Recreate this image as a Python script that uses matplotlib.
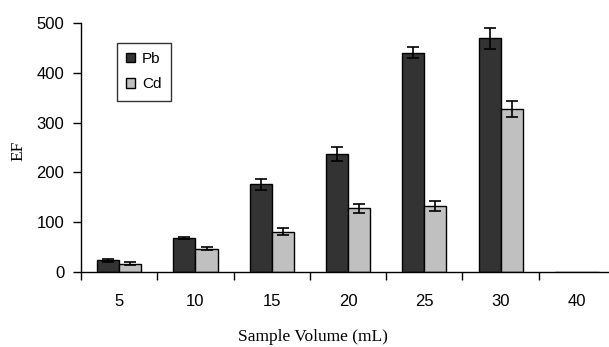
import matplotlib
matplotlib.use("Agg")
import matplotlib.pyplot as plt
import numpy as np

categories = ["5", "10", "15", "20", "25", "30", "40"]
pb_values = [24, 68, 176, 236, 440, 469, 0]
cd_values = [17, 47, 81, 128, 132, 328, 0]
pb_err = [3, 2, 11, 14, 11, 21, 0]
cd_err = [3, 3, 7, 9, 10, 16, 0]

fig = plt.figure(figsize=(6.09, 3.47), dpi=100)
ax = fig.add_axes([0.133, 0.216, 0.877, 0.718])

x = np.arange(len(categories))
w = 0.29
eb = dict(ecolor="black", elinewidth=1.2, capsize=4, capthick=1.2)
ax.bar(x - w/2, pb_values, w, color="#333333", edgecolor="black", linewidth=1,
       yerr=[e if e else np.nan for e in pb_err], error_kw=eb, label="Pb")
ax.bar(x + w/2, cd_values, w, color="#c0c0c0", edgecolor="black", linewidth=1,
       yerr=[e if e else np.nan for e in cd_err], error_kw=eb, label="Cd")

ax.set_xlim(-0.5, 6.5)
ax.set_ylim(0, 500)
ax.set_yticks([0, 100, 200, 300, 400, 500])
ax.set_xticks(x)
ax.set_xticklabels(categories)
ax.set_xticks(np.arange(-0.5, 6.6, 1), minor=True)
ax.tick_params(axis="x", which="major", length=0, pad=16)
ax.tick_params(axis="x", which="minor", length=6, width=1, direction="out")
ax.tick_params(axis="y", length=6, width=1, direction="out", pad=6)
for lab in ax.get_xticklabels() + ax.get_yticklabels():
    lab.set_fontfamily("Liberation Sans")
    lab.set_fontsize(12)

for s in ["top", "right"]:
    ax.spines[s].set_visible(False)
for s in ["left", "bottom"]:
    ax.spines[s].set_linewidth(1)

ax.set_xlabel("Sample Volume (mL)", fontfamily="Liberation Serif", fontsize=12.5, va="top")
ax.xaxis.set_label_coords(0.434, -0.228)
ax.set_ylabel("EF", fontfamily="Liberation Serif", fontsize=12.5)
ax.yaxis.set_label_coords(-0.103, 0.486)

leg = ax.legend(loc="upper left", bbox_to_anchor=(0.0674, 0.92), borderaxespad=0,
                frameon=True, fancybox=False, edgecolor="black",
                handlelength=0.6, handleheight=0.6, handletextpad=0.45,
                borderpad=0.6, labelspacing=0.75,
                prop={"family": "Liberation Sans", "size": 11})
leg.get_frame().set_linewidth(1)

fig.savefig("out.png", dpi=100)
